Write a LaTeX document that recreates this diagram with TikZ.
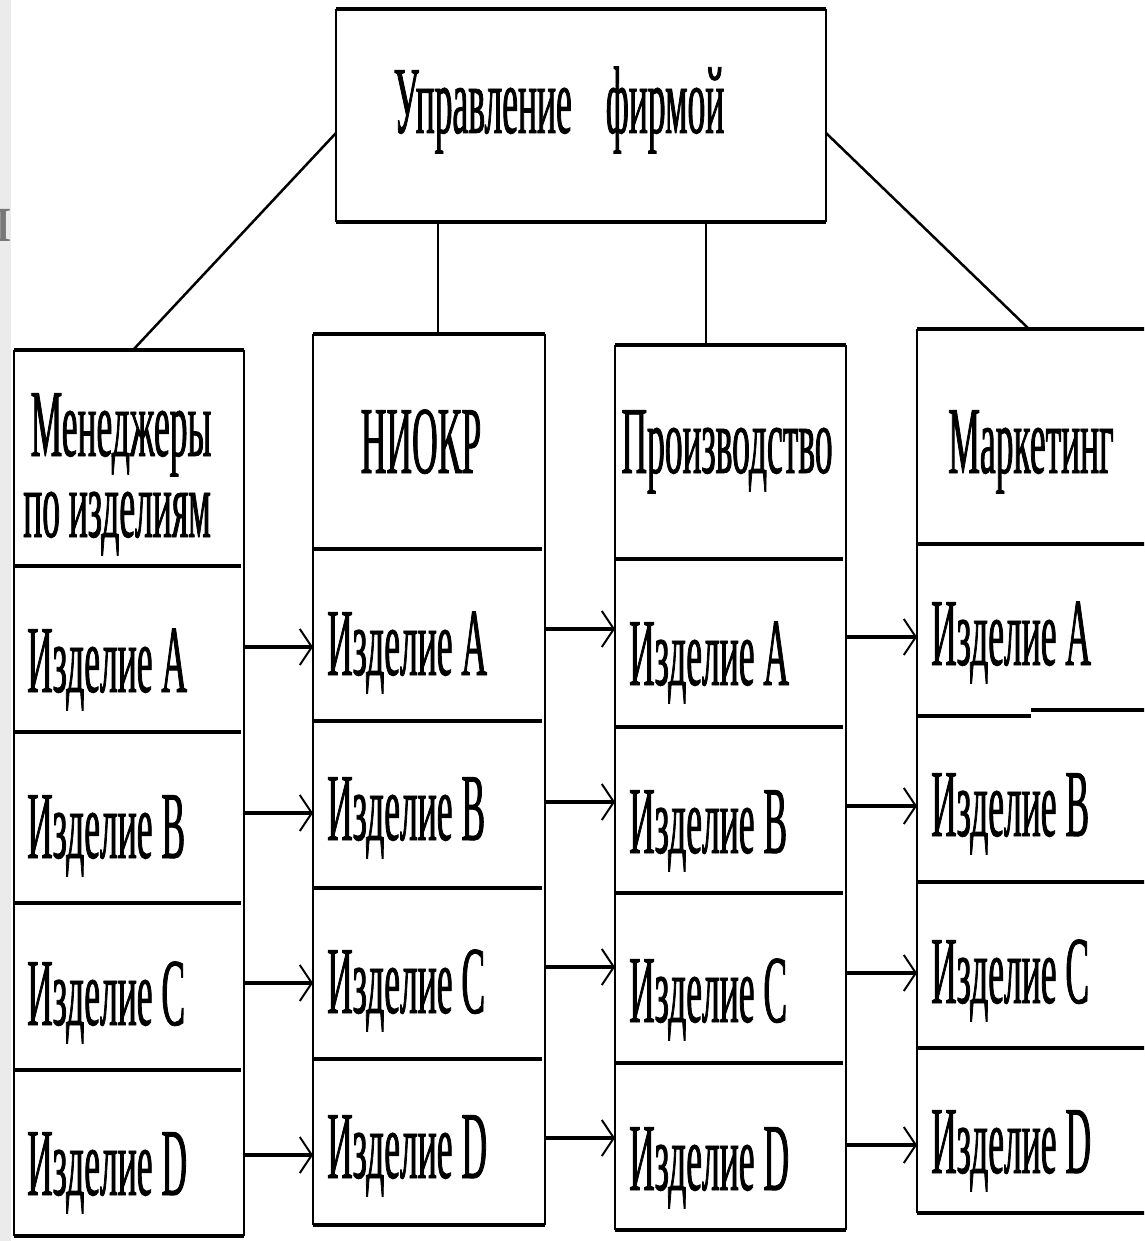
\documentclass[tikz,border=0pt]{standalone}
\usepackage{fontspec}
\newfontfamily\cond{Liberation Serif}[FakeStretch=0.37,FakeBold=0.8]
\newfontfamily\plainserif{Liberation Serif}
\usetikzlibrary{arrows.meta}
\definecolor{stripgray}{RGB}{235,235,235}
\definecolor{glyphgray}{RGB}{120,120,120}
\begin{document}
\begin{tikzpicture}[x=1pt,y=-1pt,
  cell/.style={rectangle, inner sep=0pt, outer sep=0pt, anchor=north west},
  hl/.style={line width=4pt},
  vl/.style={line width=2pt},
  dl/.style={line width=2.5pt},
  hdr/.style={font=\cond\fontsize{96}{96}\selectfont, inner sep=0pt, anchor=base},
  item/.style={font=\cond\fontsize{96}{96}\selectfont, inner sep=0pt, anchor=base west},
  arr/.style={line width=3.5pt, -{Straight Barb[length=12pt, width=36pt, line width=2pt]}}
]
\useasboundingbox (0,0) rectangle (1144,1241);
\clip (0,0) rectangle (1144,1241);
\fill[white] (0,0) rectangle (1144,1241);
% screenshot strip at left edge
\fill[stripgray] (0,0) rectangle (11,1241);
\begin{scope}
  \clip (0,0) rectangle (11,1241);
  \node[inner sep=0pt, anchor=base east, text=glyphgray, font=\plainserif\fontsize{70}{70}\selectfont] (edgeglyph) at (12,242) {п};
\end{scope}

% top box
\node[cell, minimum width=490pt, minimum height=213pt] (top) at (336,9) {};
\draw[hl] (top.north west) -- (top.north east);
\draw[hl] (top.south west) -- (top.south east);
\draw[line width=2.5pt] (top.north west) -- (top.south west);
\draw[line width=2.5pt] (top.north east) -- (top.south east);
\node[hdr] (title) at (559,133) {Управление\hspace{34pt}фирмой};

% column 1
\node[cell, minimum width=230pt, minimum height=216pt] (h1) at (14,350) {};
\node[cell, minimum width=230pt, minimum height=166pt] (a1) at (14,566) {};
\node[cell, minimum width=230pt, minimum height=171pt] (b1) at (14,732) {};
\node[cell, minimum width=230pt, minimum height=167pt] (c1) at (14,903) {};
\node[cell, minimum width=230pt, minimum height=166pt] (d1) at (14,1070) {};
% column 2
\node[cell, minimum width=232pt, minimum height=215pt] (h2) at (313,334) {};
\node[cell, minimum width=232pt, minimum height=172pt] (a2) at (313,549) {};
\node[cell, minimum width=232pt, minimum height=167pt] (b2) at (313,721) {};
\node[cell, minimum width=232pt, minimum height=171pt] (c2) at (313,888) {};
\node[cell, minimum width=232pt, minimum height=166pt] (d2) at (313,1059) {};
% column 3
\node[cell, minimum width=231pt, minimum height=214pt] (h3) at (615,345) {};
\node[cell, minimum width=231pt, minimum height=168pt] (a3) at (615,559) {};
\node[cell, minimum width=231pt, minimum height=166pt] (b3) at (615,727) {};
\node[cell, minimum width=231pt, minimum height=170pt] (c3) at (615,893) {};
\node[cell, minimum width=231pt, minimum height=167pt] (d3) at (615,1063) {};
% column 4
\node[cell, minimum width=240pt, minimum height=215pt] (h4) at (917,329) {};
\node[cell, minimum width=240pt, minimum height=169pt] (a4) at (917,544) {};
\node[cell, minimum width=240pt, minimum height=169pt] (b4) at (917,713) {};
\node[cell, minimum width=240pt, minimum height=166pt] (c4) at (917,882) {};
\node[cell, minimum width=240pt, minimum height=165pt] (d4) at (917,1048) {};

% column borders
\foreach \c in {1,2,3,4} {
  \draw[vl] (h\c.north west) -- (d\c.south west);
  \draw[vl] (h\c.north east) -- (d\c.south east);
  \draw[hl] (h\c.north west) -- (h\c.north east);
  \draw[hl] (d\c.south west) -- (d\c.south east);
  \foreach \r in {h,b,c} {
    \draw[hl] (\r\c.south west) -- ([xshift=-3pt]\r\c.south east);
  }
}
\foreach \c in {1,2,3} {
  \draw[hl] (a\c.south west) -- ([xshift=-3pt]a\c.south east);
}
% stepped divider in column 4
\draw[hl] ([yshift=-3pt]a4.south west) -- ++(114,0);
\draw[hl] ([xshift=114pt,yshift=3pt]a4.south west) -- ([yshift=3pt]a4.south east);

% connectors from the top box
\coordinate (v2) at ([xshift=9pt]h2.north);
\coordinate (v3) at ([xshift=-24.5pt]h3.north);
\draw[vl] (top.south -| v2) -- (v2);
\draw[vl] (top.south -| v3) -- (v3);
\draw[dl] ([yshift=-17.5pt]top.west) -- ([xshift=4pt]h1.north);
\draw[dl] ([yshift=-17.5pt]top.east) -- ([xshift=-8pt]h4.north);

% header texts
\node[hdr, text depth=0pt] (th1a) at (121,456) {Менеджеры};
\node[hdr, text height=46pt] (th1b) at (117,537) {по изделиям};
\node[hdr] (th2) at (421,473) {НИОКР};
\node[hdr] (th3) at (727,473) {Производство};
\node[hdr] (th4) at (1031,473) {Маркетинг};

% item texts
\node[item] (ta1) at (27,692) {Изделие A};
\node[item] (tb1) at (27,858) {Изделие B};
\node[item] (tc1) at (27,1025) {Изделие C};
\node[item] (td1) at (27,1195) {Изделие D};
\node[item] (ta2) at (327,675) {Изделие A};
\node[item] (tb2) at (327,840) {Изделие B};
\node[item] (tc2) at (327,1013) {Изделие C};
\node[item] (td2) at (327,1178) {Изделие D};
\node[item] (ta3) at (629,685) {Изделие A};
\node[item] (tb3) at (629,853) {Изделие B};
\node[item] (tc3) at (629,1022) {Изделие C};
\node[item] (td3) at (629,1190) {Изделие D};
\node[item] (ta4) at (931,665) {Изделие A};
\node[item] (tb4) at (931,836) {Изделие B};
\node[item] (tc4) at (931,1003) {Изделие C};
\node[item] (td4) at (931,1173) {Изделие D};

% arrows between columns
\foreach \r/\s in {a/2,b/4.5,c/3.5,d/-2} {
  \coordinate (s12\r) at ([yshift=\s pt]\r1.east);
  \draw[arr] (s12\r) -- (s12\r -| \r2.west);
}
\foreach \r/\s in {a/6,b/2.5,c/6.5,d/4} {
  \coordinate (s23\r) at ([yshift=\s pt]\r2.east);
  \draw[arr] (s23\r) -- (s23\r -| \r3.west);
}
\foreach \r/\s in {a/6,b/4,c/5,d/1.5} {
  \coordinate (s34\r) at ([yshift=\s pt]\r3.east);
  \draw[arr] (s34\r) -- (s34\r -| \r4.west);
}
\end{tikzpicture}
\end{document}
